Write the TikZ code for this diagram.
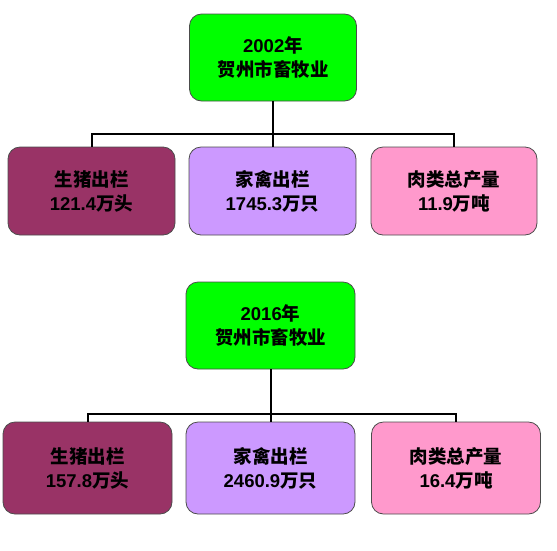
\documentclass[tikz,border=0pt]{standalone}
\usepackage{fontspec}
\setmainfont{Liberation Sans}
\newfontfamily\cjk{Noto Sans CJK SC}
\newcommand{\zh}[1]{{\cjk #1}}
\definecolor{rootgreen}{RGB}{0,255,0}
\definecolor{pigred}{RGB}{153,51,102}
\definecolor{fowlviolet}{RGB}{204,153,255}
\definecolor{meatpink}{RGB}{255,153,204}
\tikzset{
  box/.style={draw=black!70,line width=0.8pt,rounded corners=12pt,
    minimum width=167pt,minimum height=88pt,align=center,
    font=\fontsize{18.5}{24}\selectfont\bfseries},
  link/.style={line width=2pt,black}
}
\begin{document}
\begin{tikzpicture}[x=1pt,y=-1pt]
  \useasboundingbox (0,0) rectangle (557,550);
  % 2002
  \node[box,fill=rootgreen,minimum height=87pt] (root1) at (273,57.5) {2002\zh{年}\\\zh{贺州市畜牧业}};
  \node[box,fill=pigred] (pig1) at (91.5,191) {\zh{生猪出栏}\\121.4\zh{万头}};
  \node[box,fill=fowlviolet] (fowl1) at (272.5,191) {\zh{家禽出栏}\\1745.3\zh{万只}};
  \node[box,fill=meatpink,minimum width=166pt] (meat1) at (454,191) {\zh{肉类总产量}\\11.9\zh{万吨}};
  \coordinate (bar1) at (273,134);
  \draw[link] (root1.south) -- (bar1);
  \draw[link] (bar1) -| (pig1.north);
  \draw[link] (bar1) -| (meat1.north);
  \draw[link] (bar1) -- (bar1 |- fowl1.north);
  % 2016
  \node[box,fill=rootgreen,minimum width=169pt,minimum height=87pt] (root2) at (270.5,325.5) {2016\zh{年}\\\zh{贺州市畜牧业}};
  \node[box,fill=pigred,minimum width=169pt,minimum height=92pt] (pig2) at (87.5,468) {\zh{生猪出栏}\\157.8\zh{万头}};
  \node[box,fill=fowlviolet,minimum width=169pt,minimum height=92pt] (fowl2) at (270.5,468) {\zh{家禽出栏}\\2460.9\zh{万只}};
  \node[box,fill=meatpink,minimum width=169pt,minimum height=92pt] (meat2) at (456,468) {\zh{肉类总产量}\\16.4\zh{万吨}};
  \coordinate (bar2) at (270.5,414);
  \draw[link] (root2.south) -- (bar2);
  \draw[link] (bar2) -| (pig2.north);
  \draw[link] (bar2) -| (meat2.north);
  \draw[link] (bar2) -- (fowl2.north);
\end{tikzpicture}
\end{document}
